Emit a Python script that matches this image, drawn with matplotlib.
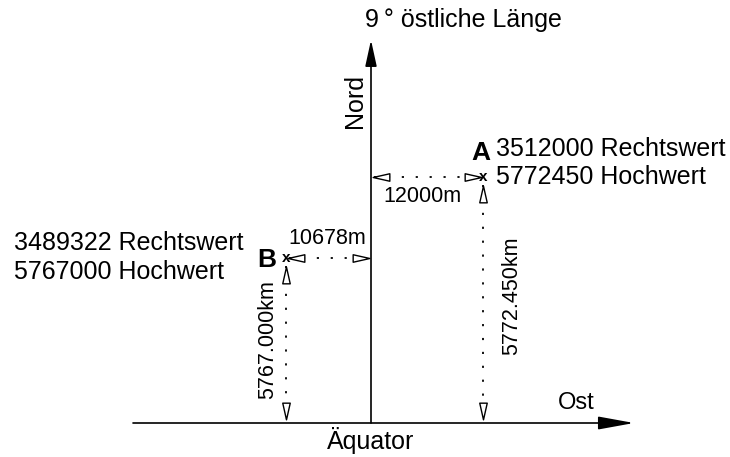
import numpy as np
import matplotlib
matplotlib.use('Agg')
import matplotlib.pyplot as plt
from matplotlib.path import Path
from matplotlib.transforms import Affine2D

plt.rcParams['font.family'] = ['Liberation Sans', 'DejaVu Sans']

# Punkte A und B (Gauss-Krueger Koordinaten)
names = ['A', 'B']
rechtswert = [3512000, 3489322]
hochwert = [5772450, 5767000]
dist_ost = ['12000m', '10678m']
dist_nord = ['5772.450km', '5767.000km']

# schematische Lage im Bild (nicht massstaeblich)
meridian_x = 371
equator_y = 423
pt_x = [483, 286]
pt_y = [177, 258]

fig = plt.figure(figsize=(7.30, 4.57), dpi=100)
ax = fig.add_axes([0, 0, 1, 1])
ax.set_xlim(0, 730)
ax.set_ylim(457, 0)
ax.axis('off')

# Achsen mit gefuellten Pfeilspitzen
ax.annotate('', xy=(meridian_x, 40), xytext=(meridian_x, equator_y),
            arrowprops=dict(arrowstyle='-|>,head_length=1.6,head_width=0.35',
                            color='black', lw=1.2, shrinkA=0, shrinkB=0))
ax.annotate('', xy=(634, equator_y), xytext=(133, equator_y),
            arrowprops=dict(arrowstyle='-|>,head_length=2.2,head_width=0.4',
                            color='black', lw=1.2, shrinkA=0, shrinkB=0))

ax.text(365, 20, '9\u2009° östliche Länge', fontsize=18, ha='left', va='center')
ax.text(355, 101, 'Nord', fontsize=18, rotation=90, ha='center', va='center')
ax.text(576, 403, 'Ost', fontsize=17, ha='center', va='center')
ax.text(371, 441, 'Äquator', fontsize=18, ha='center', va='center')

# offene schmale Dreiecke
tri = Path([(-1, -0.45), (1, 0), (-1, 0.45), (-1, -0.45)],
           [Path.MOVETO, Path.LINETO, Path.LINETO, Path.CLOSEPOLY])
def tri_rot(deg):
    return tri.transformed(Affine2D().rotate_deg(deg))

mk = dict(ms=12, mfc='white', mec='black', mew=1.0, ls='none')
dots = dict(color='black', lw=1.3, ls=(0, (1.2, 6.5)))

for i in range(2):
    x, y = pt_x[i], pt_y[i]
    # horizontale Entfernung zum Meridian
    xa, xb = sorted([x, meridian_x])
    ax.plot([xa + 3, xb - 3], [y, y], **dots)
    ax.plot([xa + 10], [y], marker=tri_rot(180), **mk)
    ax.plot([xb - 10], [y], marker=tri_rot(0), **mk)
    # Abstand zum Aequator
    ax.plot([x, x], [y + 8, equator_y - 4], **dots)
    ax.plot([x], [y + 17], marker=tri_rot(90), **mk)
    ax.plot([x], [equator_y - 12], marker=tri_rot(-90), **mk)
    ax.text(x, y, 'x', fontsize=11, fontweight='bold', ha='center', va='center')

# A
ax.text(pt_x[0] - 2, 153, names[0], fontsize=19, fontweight='bold', ha='center', va='center')
ax.text(496, 149, f'{rechtswert[0]} Rechtswert', fontsize=18, ha='left', va='center')
ax.text(496, 177, f'{hochwert[0]} Hochwert', fontsize=18, ha='left', va='center')
ax.text(422, 196, dist_ost[0], fontsize=15.5, ha='center', va='center')
ax.text(512, 296, dist_nord[0], fontsize=15.5, rotation=90, ha='center', va='center')

# B
ax.text(267, 260, names[1], fontsize=19, fontweight='bold', ha='center', va='center')
ax.text(14, 243, f'{rechtswert[1]} Rechtswert', fontsize=18, ha='left', va='center')
ax.text(14, 272, f'{hochwert[1]} Hochwert', fontsize=18, ha='left', va='center')
ax.text(327, 239, dist_ost[1], fontsize=15.5, ha='center', va='center')
ax.text(268, 340, dist_nord[1], fontsize=15.5, rotation=90, ha='center', va='center')

fig.savefig('out.png', dpi=100)
